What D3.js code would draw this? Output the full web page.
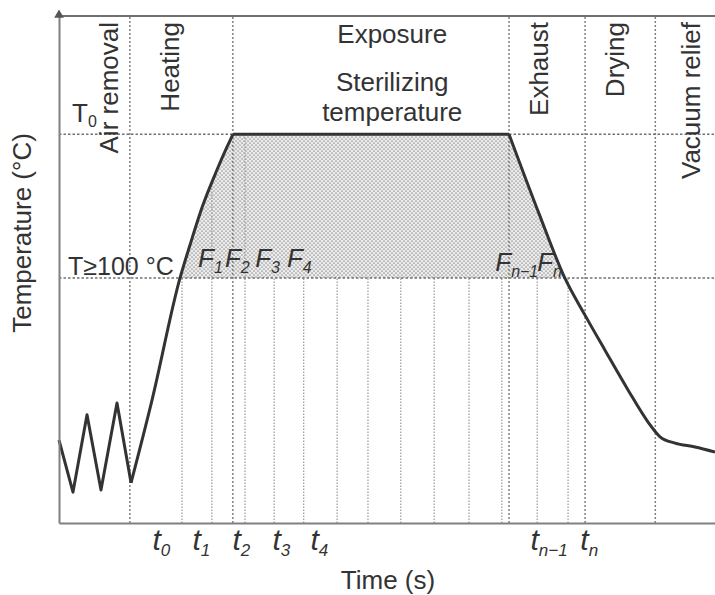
<!DOCTYPE html>
<html>
<head>
<meta charset="utf-8">
<script src="https://cdn.jsdelivr.net/npm/d3@7"></script>
<style>
  body { margin: 0; background: #fff; }
  svg text { font-family: "Liberation Sans", Arial, sans-serif; fill: #333; }
</style>
</head>
<body>
<div id="chart"></div>
<script>
// ----------------
// Steam sterilization cycle
// ----------------

// curve pieces (time in arbitrary units 0-100, temperature in °C)
const purgeTime = [0, 2.13, 4.27, 6.4, 8.84, 10.98];
const purgeTemp = [61.6, 49.3, 67.6, 49.8, 70.4, 51.5];
const heatTime = [10.98, 14.18, 18.45, 19.97, 21.95, 24.09, 25.61, 26.52];
const heatTemp = [51.5, 71.1, 100, 107.8, 117.3, 125.6, 131, 134];
const holdTime = [26.52, 68.6];
const holdTemp = [134, 134];
const coolTime = [68.6, 73.2, 77.1, 80.18, 83.23, 86.74, 89.79, 91.62, 93.9, 96.95, 100];
const coolTemp = [134, 115.1, 100, 91.2, 82.9, 73.5, 65.9, 62.4, 60.9, 60.0, 58.8];

// reference temperatures
const T0 = 134, T100 = 100;

// phases
const phaseEnds = [10.8, 26.5, 68.6, 80.2, 90.9];
const phaseNames = ["Air removal", "Heating", "Exhaust", "Drying", "Vacuum relief"];
const phaseLabelAt = [9.0, 18.3, 74.5, 86.1, 97.7]; // baseline positions of the rotated labels
const exposureText = ["Exposure", "Sterilizing", "temperature"];
const exposureAt = 50.8;

// F-value intervals
const intervalTime = [18.75, 23.3, 28.35, 32.8, 37.3, 42.4, 47.1, 52.1, 57.2, 62.5, 67.5, 72.9, 77.6];
const intervalTop = [100, 122.5, 134, 100, 100, 100, 100, 100, 100, 100, 100, 100, 100];

// tick labels on the time axis
const tickTime = [14.18, 20.27, 26.37, 32.47, 38.26, 71.8, 79.4];
const tickSub = ["0", "1", "2", "3", "4", "n\u22121", "n"];

// F labels
const fTime = [21.2, 25.3, 29.9, 34.75, 66.5, 72.9];
const fSub = ["1", "2", "3", "4", "n\u22121", "n"];

const margin = { top: 16, right: 0, bottom: 72, left: 59 },
    width = 715 - margin.left - margin.right,
    height = 595 - margin.top - margin.bottom;

const svgRoot = d3.select("#chart")
    .append("svg")
    .attr("width", 715)
    .attr("height", 595);

const svg = svgRoot.append("g")
    .attr("transform", `translate(${margin.left},${margin.top})`);

const x = d3.scaleLinear().domain([0, 100]).range([0, width]);
const y = d3.scaleLinear().domain([42, 162]).range([height, 0]);

// stipple pattern for the lethal zone
const defs = svgRoot.append("defs");
const pat = defs.append("pattern")
    .attr("id", "stipple")
    .attr("width", 4).attr("height", 4)
    .attr("patternUnits", "userSpaceOnUse");
pat.append("rect").attr("width", 4).attr("height", 4).attr("fill", "#ececec");
pat.append("circle").attr("cx", 1).attr("cy", 1).attr("r", 0.85).attr("fill", "#9a9a9a");
pat.append("circle").attr("cx", 3).attr("cy", 3).attr("r", 0.85).attr("fill", "#9a9a9a");

const zip = (ts, vs) => ts.map((t, i) => [t, vs[i]]);
const pieces = [
    { pts: zip(purgeTime, purgeTemp), curve: d3.curveLinear },
    { pts: zip(heatTime, heatTemp), curve: d3.curveMonotoneX },
    { pts: zip(holdTime, holdTemp), curve: d3.curveLinear },
    { pts: zip(coolTime, coolTemp), curve: d3.curveMonotoneX }
];

// clip = region under the curve
const clip = defs.append("clipPath").attr("id", "under");
pieces.forEach(p => {
    clip.append("path")
        .attr("d", d3.area().curve(p.curve)
            .x(d => x(d[0])).y0(y(42)).y1(d => y(d[1]))(p.pts));
});

svg.append("rect")
    .attr("clip-path", "url(#under)")
    .attr("x", x(0))
    .attr("y", y(T0) - 2)
    .attr("width", width)
    .attr("height", y(T100) - y(T0) + 2)
    .attr("fill", "url(#stipple)");

// interval lines
svg.append("g")
    .selectAll("line")
    .data(intervalTime)
    .join("line")
    .attr("x1", d => x(d)).attr("x2", d => x(d))
    .attr("y1", height)
    .attr("y2", (d, i) => y(intervalTop[i]))
    .attr("stroke", "#a0a0a0")
    .attr("stroke-width", 1.3)
    .attr("stroke-dasharray", "1.5,1.5");

// phase boundaries
svg.append("g")
    .selectAll("line")
    .data(phaseEnds)
    .join("line")
    .attr("x1", d => x(d)).attr("x2", d => x(d))
    .attr("y1", height).attr("y2", 0)
    .attr("stroke", "#808080")
    .attr("stroke-width", 1.5)
    .attr("stroke-dasharray", "2,2");

// reference temperature lines
svg.append("g")
    .selectAll("line")
    .data([T0, T100])
    .join("line")
    .attr("x1", 0).attr("x2", width)
    .attr("y1", d => y(d)).attr("y2", d => y(d))
    .attr("stroke", "#707070")
    .attr("stroke-width", 1.5)
    .attr("stroke-dasharray", "2.5,2");

// temperature curve
pieces.forEach(p => {
    svg.append("path")
        .attr("d", d3.line().curve(p.curve).x(d => x(d[0])).y(d => y(d[1]))(p.pts))
        .attr("fill", "none")
        .attr("stroke", "#333")
        .attr("stroke-width", 3)
        .attr("stroke-linejoin", "round");
});

// axes
const xAxis = svg.append("g")
    .attr("transform", `translate(0,${height})`)
    .call(d3.axisBottom(x).tickValues(tickTime).tickSize(0).tickSizeOuter(0).tickFormat(""));
xAxis.select(".domain").attr("stroke", "#808080").attr("stroke-width", 2);
xAxis.selectAll(".tick text")
    .attr("text-anchor", "start")
    .attr("dy", 0).attr("y", 27)
    .style("font-size", "30px")
    .style("font-style", "italic")
    .each(function(d, i) {
        const t = d3.select(this);
        t.append("tspan").text("t");
        t.append("tspan").attr("dy", 6).style("font-size", "17px").text(tickSub[i]);
    });

const yAxis = svg.append("g")
    .call(d3.axisLeft(y).tickValues([]).tickSizeOuter(0));
yAxis.select(".domain").attr("stroke", "#808080").attr("stroke-width", 2);

// top frame line and arrow head
svg.append("line")
    .attr("x1", 0).attr("x2", width).attr("y1", 0).attr("y2", 0)
    .attr("stroke", "#707070").attr("stroke-width", 2);
svg.append("path")
    .attr("d", d3.symbol(d3.symbolTriangle, 40)())
    .attr("transform", "translate(0,-1)")
    .attr("fill", "#555");

// phase labels
svg.append("g")
    .selectAll("text")
    .data(phaseNames)
    .join("text")
    .attr("transform", (d, i) => `translate(${x(phaseLabelAt[i])},6) rotate(-90)`)
    .attr("text-anchor", "end")
    .style("font-size", "26px")
    .text(d => d);

svg.append("g")
    .selectAll("text")
    .data(exposureText)
    .join("text")
    .attr("x", x(exposureAt))
    .attr("y", (d, i) => [27, 75, 105][i])
    .attr("text-anchor", "middle")
    .style("font-size", "26px")
    .text(d => d);

// T0 and T100 labels
const t0Label = svg.append("text")
    .attr("x", 13).attr("y", y(T0) - 12)
    .style("font-size", "26px");
t0Label.append("tspan").text("T");
t0Label.append("tspan").attr("dy", 5).style("font-size", "16px").text("0");

svg.append("text")
    .attr("x", 9).attr("y", y(T100) - 3)
    .style("font-size", "25px")
    .text("T\u2265100 \u00b0C");

// F labels
svg.append("g")
    .selectAll("text")
    .data(fSub)
    .join("text")
    .attr("x", (d, i) => x(fTime[i]))
    .attr("y", (d, i) => y(T100) - (i < 4 ? 11 : 7))
    .style("font-size", "26px")
    .style("font-style", "italic")
    .each(function(d) {
        const t = d3.select(this);
        t.append("tspan").text("F");
        t.append("tspan").attr("dy", 6).style("font-size", "16px").text(d);
    });

// axis titles
svgRoot.append("text")
    .attr("transform", "translate(31,233) rotate(-90)")
    .attr("text-anchor", "middle")
    .style("font-size", "26px")
    .text("Temperature (\u00b0C)");

svgRoot.append("text")
    .attr("x", 388).attr("y", 589)
    .attr("text-anchor", "middle")
    .style("font-size", "26px")
    .text("Time (s)");
</script>
</body>
</html>
